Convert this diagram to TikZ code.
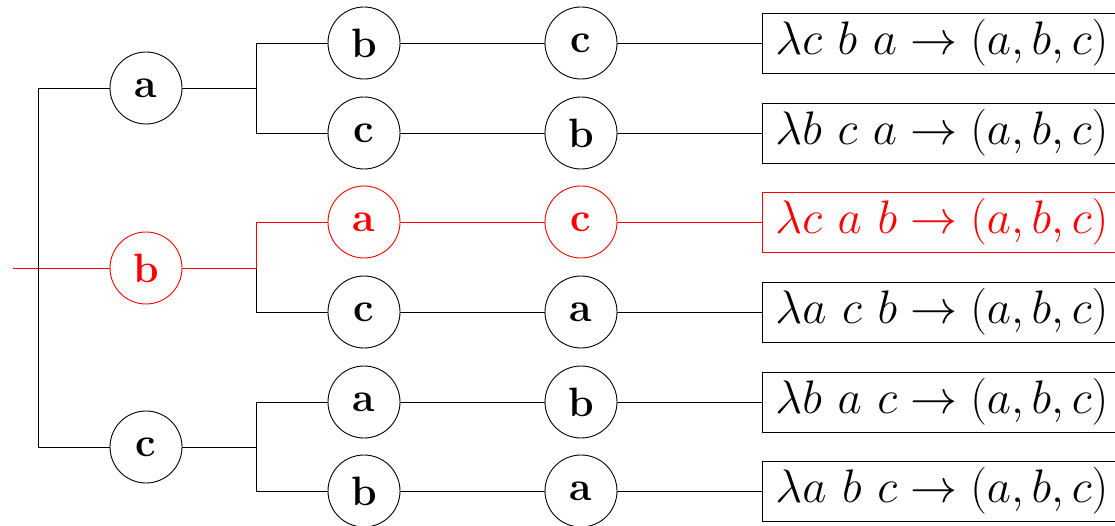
\documentclass[tikz,border=0pt]{standalone}
\usepackage{fix-cm}
\usepackage{amsmath}
\begin{document}
\begin{tikzpicture}[x=1pt,y=-1pt,
  every node/.style={font=\fontsize{47}{54}\selectfont},
  circ/.style={circle,draw,line width=0.9pt,minimum size=72pt,inner sep=0pt,font=\fontsize{41}{48}\selectfont\bfseries},
  res/.style={draw,line width=0.9pt,minimum height=60pt,inner xsep=13pt,inner ysep=0pt,anchor=west,text width=360pt,align=left},
  edge/.style={line width=0.9pt},
  hl/.style={red}]
\useasboundingbox (0,0) rectangle (1115,526);
\clip (0,0) rectangle (1115,526);
% level 1
\node[circ] (A) at (146,88) {a};
\node[circ,hl] (B) at (146,268) {b};
\node[circ] (C) at (146,447) {c};
% level 2
\node[circ] (AB) at (364,43) {b};
\node[circ] (AC) at (364,133) {c};
\node[circ,hl] (BA) at (364,222) {a};
\node[circ] (BC) at (364,312) {c};
\node[circ] (CA) at (364,402) {a};
\node[circ] (CB) at (364,491) {b};
% level 3
\node[circ] (ABC) at (581,43) {c};
\node[circ] (ACB) at (581,133) {b};
\node[circ,hl] (BAC) at (581,222) {c};
\node[circ] (BCA) at (581,312) {a};
\node[circ] (CAB) at (581,402) {b};
\node[circ] (CBA) at (581,491) {a};
% results
\node[res] (R1) at (762,43) {$\lambda c\ b\ a \to (a, b, c)$};
\node[res] (R2) at (762,133) {$\lambda b\ c\ a \to (a, b, c)$};
\node[res,hl] (R3) at (762,222) {$\lambda c\ a\ b \to (a, b, c)$};
\node[res] (R4) at (762,312) {$\lambda a\ c\ b \to (a, b, c)$};
\node[res] (R5) at (762,402) {$\lambda b\ a\ c \to (a, b, c)$};
\node[res] (R6) at (762,491) {$\lambda a\ b\ c \to (a, b, c)$};
% junctions
\coordinate (root) at (13,268);
\coordinate (j0) at (38,268);
\coordinate (jA) at (256,88);
\coordinate (jB) at (256,268);
\coordinate (jC) at (256,447);
% edges level 0 -> 1
\draw[edge] (j0) |- (A);
\draw[edge] (j0) |- (C);
% edges level 1 -> 2
\draw[edge] (A) -- (jA) |- (AB);
\draw[edge] (jA) |- (AC);
\draw[edge] (jB) |- (BC);
\draw[edge] (C) -- (jC) |- (CA);
\draw[edge] (jC) |- (CB);
% level 2 -> 3 -> result
\draw[edge] (AB) -- (ABC); \draw[edge] (ABC) -- (R1);
\draw[edge] (AC) -- (ACB); \draw[edge] (ACB) -- (R2);
\draw[edge] (BC) -- (BCA); \draw[edge] (BCA) -- (R4);
\draw[edge] (CA) -- (CAB); \draw[edge] (CAB) -- (R5);
\draw[edge] (CB) -- (CBA); \draw[edge] (CBA) -- (R6);
% highlighted path
\draw[edge,hl] (root) -- (B);
\draw[edge,hl] (B) -- (jB) |- (BA);
\draw[edge,hl] (BA) -- (BAC);
\draw[edge,hl] (BAC) -- (R3);
\draw[edge] (j0 |- A) -- (j0 |- C);
\end{tikzpicture}
\end{document}
